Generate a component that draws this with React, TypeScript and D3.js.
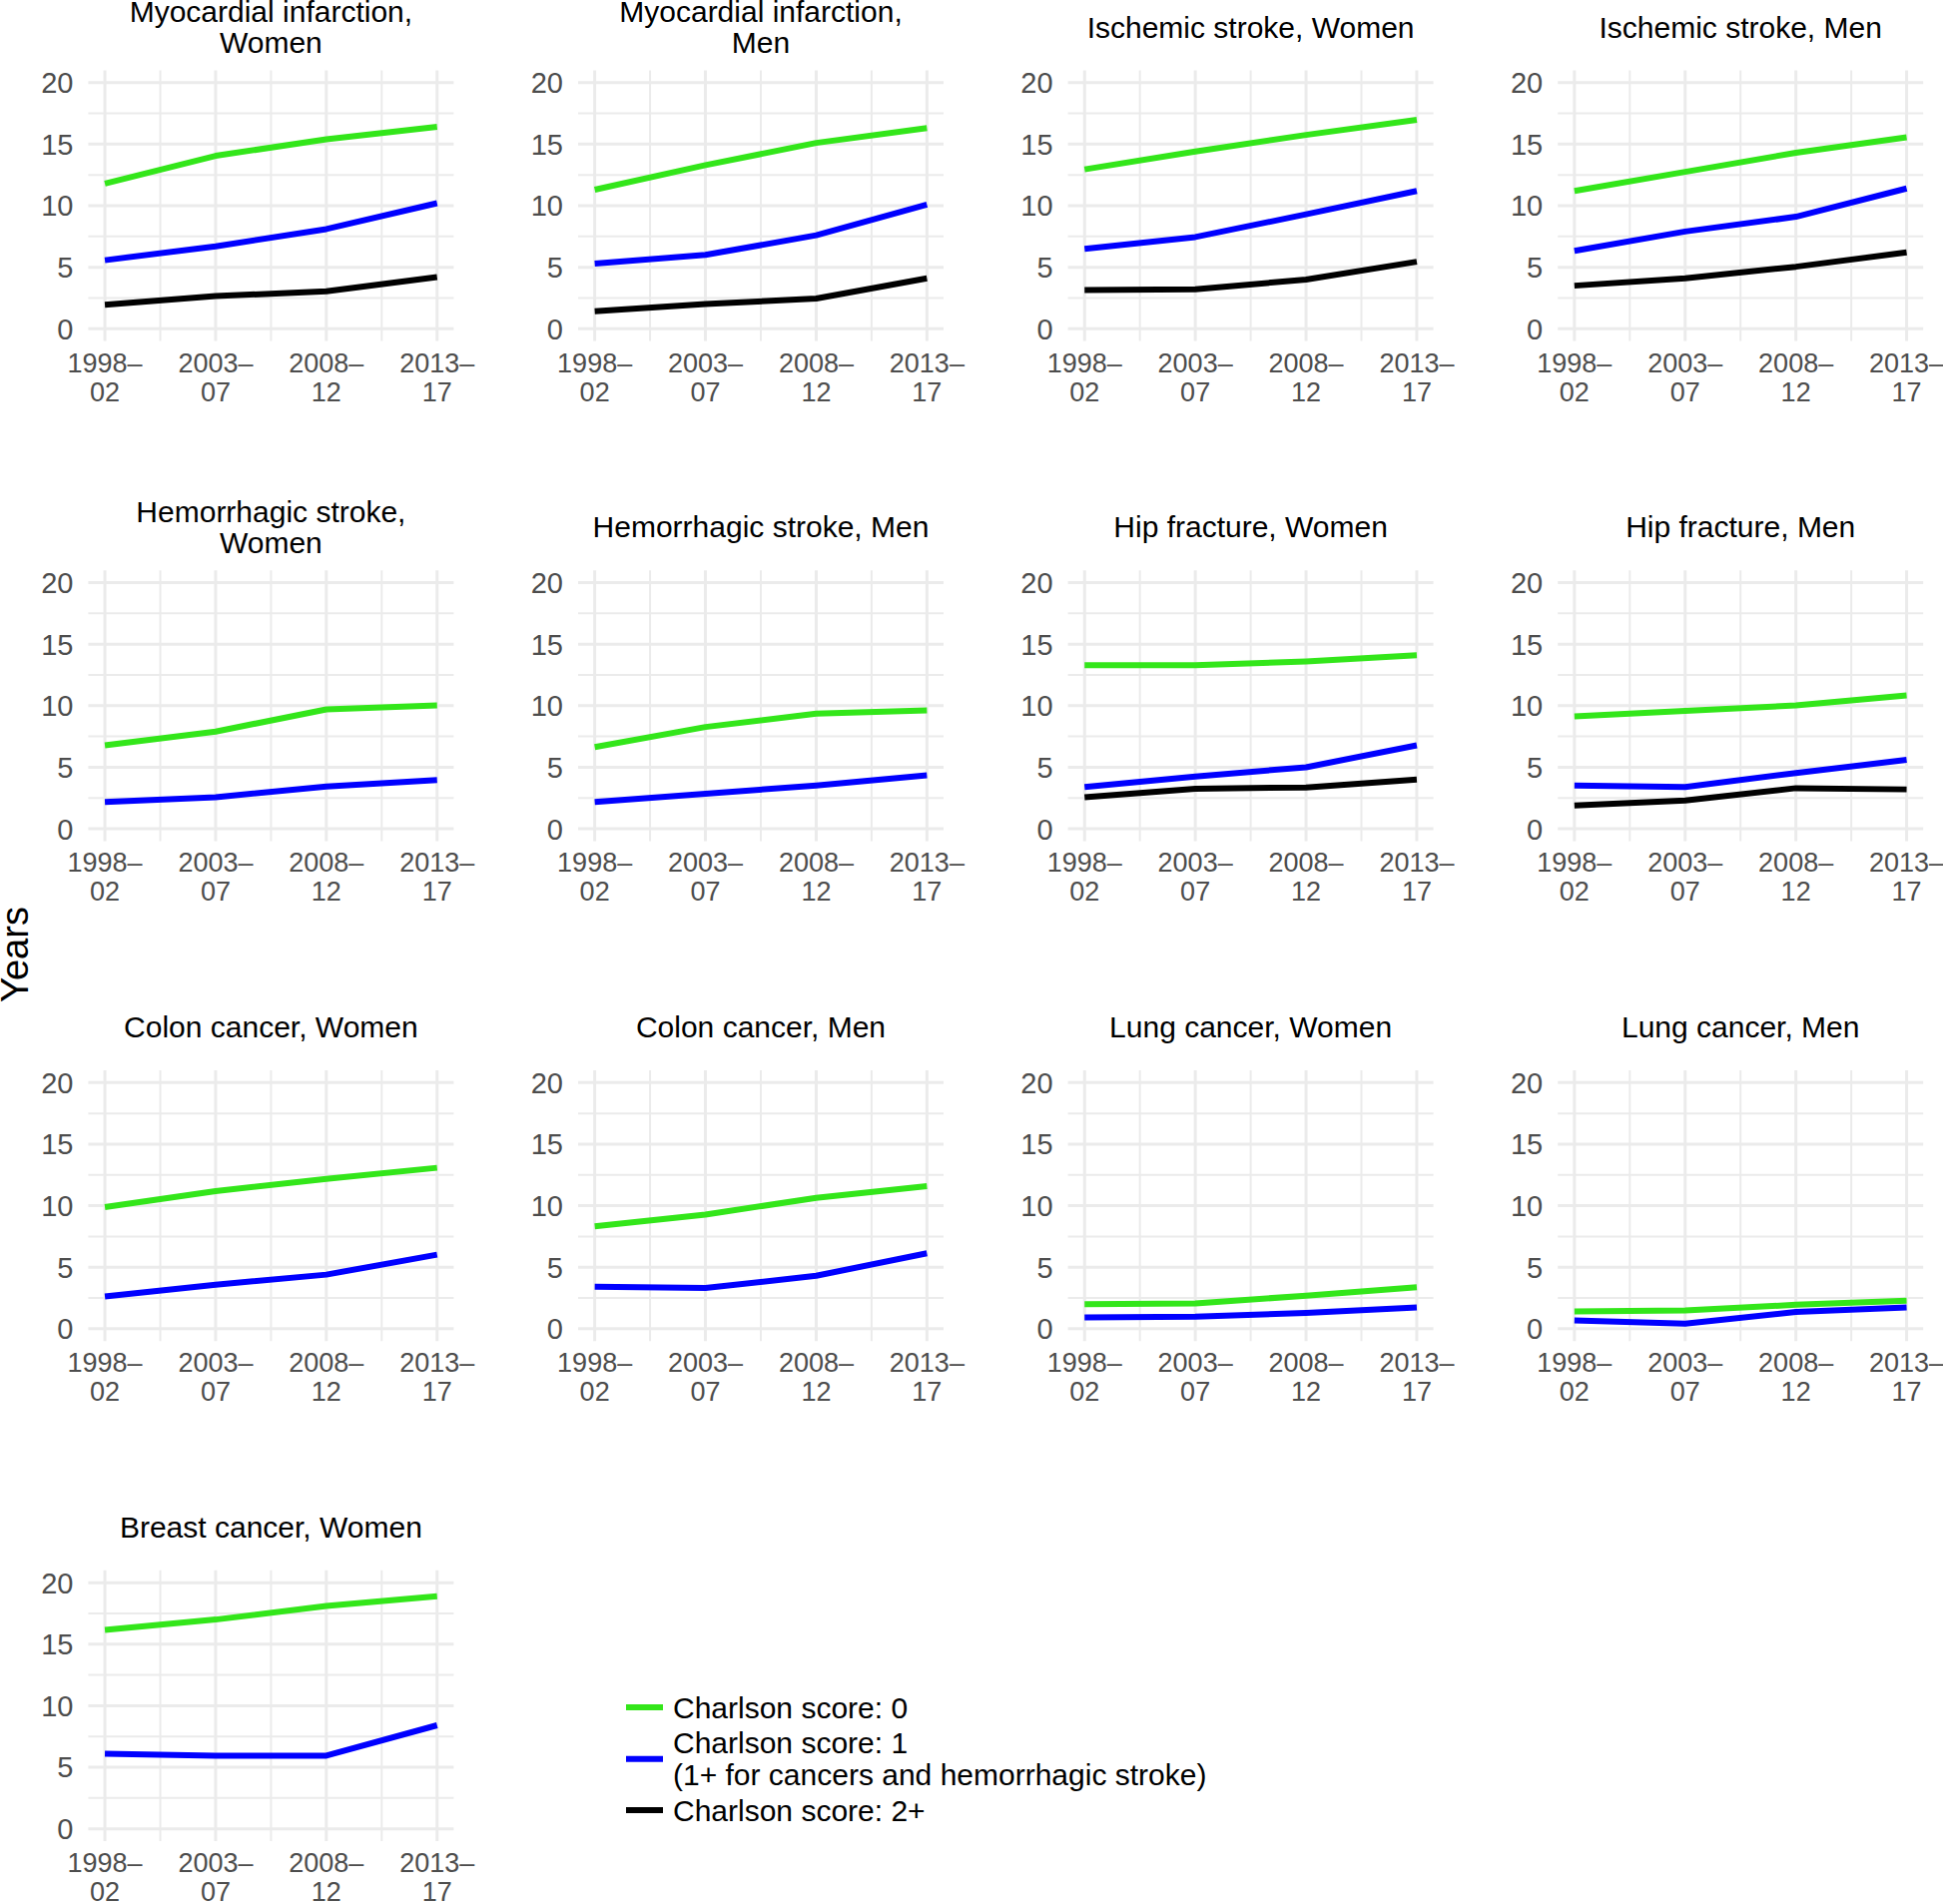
import React from "react";
import * as d3 from "d3";

// periods on the x axis (start year) and their two-line labels
const periods = [1998, 2003, 2008, 2013];
const periodTop = ["1998–", "2003–", "2008–", "2013–"];
const periodBottom = ["02", "07", "12", "17"];
const yTicks = [0, 5, 10, 15, 20];

const panelTitles = [
  "Myocardial infarction,\nWomen",
  "Myocardial infarction,\nMen",
  "Ischemic stroke, Women",
  "Ischemic stroke, Men",
  "Hemorrhagic stroke,\nWomen",
  "Hemorrhagic stroke, Men",
  "Hip fracture, Women",
  "Hip fracture, Men",
  "Colon cancer, Women",
  "Colon cancer, Men",
  "Lung cancer, Women",
  "Lung cancer, Men",
  "Breast cancer, Women",
];

// Charlson score 0
const score0 = [
  [11.8, 14.05, 15.4, 16.4],
  [11.3, 13.3, 15.1, 16.3],
  [12.95, 14.4, 15.75, 16.97],
  [11.2, 12.75, 14.3, 15.55],
  [6.78, 7.9, 9.7, 10.03],
  [6.64, 8.27, 9.35, 9.62],
  [13.28, 13.28, 13.6, 14.1],
  [9.13, 9.57, 10.03, 10.84],
  [9.88, 11.18, 12.18, 13.08],
  [8.33, 9.28, 10.64, 11.59],
  [2.0, 2.06, 2.69, 3.37],
  [1.41, 1.49, 1.95, 2.28],
  [16.15, 17.0, 18.1, 18.9],
];

// Charlson score 1 (1+ for cancers and hemorrhagic stroke)
const score1 = [
  [5.57, 6.7, 8.1, 10.2],
  [5.3, 6.0, 7.6, 10.1],
  [6.5, 7.45, 9.3, 11.2],
  [6.33, 7.9, 9.1, 11.4],
  [2.17, 2.57, 3.44, 3.96],
  [2.17, 2.85, 3.52, 4.34],
  [3.39, 4.25, 5.0, 6.78],
  [3.52, 3.39, 4.53, 5.6],
  [2.63, 3.58, 4.4, 6.02],
  [3.42, 3.31, 4.31, 6.13],
  [0.92, 0.98, 1.28, 1.74],
  [0.68, 0.41, 1.36, 1.74],
  [6.1, 5.94, 5.94, 8.41],
];

// Charlson score 2+ (only where shown)
const score2 = [
  [1.95, 2.65, 3.05, 4.2],
  [1.43, 2.0, 2.45, 4.1],
  [3.14, 3.2, 4.0, 5.45],
  [3.5, 4.1, 5.04, 6.2],
  null,
  null,
  [2.57, 3.25, 3.36, 4.0],
  [1.9, 2.3, 3.3, 3.2],
  null,
  null,
  null,
  null,
  null,
];

const seriesColors = ["#33E61A", "#0000FF", "#000000"];
const legendLabels = [
  ["Charlson score: 0"],
  ["Charlson score: 1", "(1+ for cancers and hemorrhagic stroke)"],
  ["Charlson score: 2+"],
];

const FONT = "'Liberation Sans', Arial, Helvetica, sans-serif";
const W = 366;
const H = 271.2;
const colLeft = 88.4;
const colStep = 490.6;
const rowTop = 70.4;
const rowStep = 500.8;

const x = d3.scaleLinear().domain([1998 - 0.75, 2013 + 0.75]).range([0, W]);
const y = d3.scaleLinear().domain([-1, 21]).range([H, 0]);

const line = d3
  .line<[number, number]>()
  .x((d) => x(d[0]))
  .y((d) => y(d[1]));

const minorX = [2000.5, 2005.5, 2010.5];
const minorY = [2.5, 7.5, 12.5, 17.5];

function Panel({ idx }: { idx: number }) {
  const c = idx % 4;
  const r = Math.floor(idx / 4);
  const left = colLeft + c * colStep;
  const top = rowTop + r * rowStep;
  const titleLines = panelTitles[idx].split("\n");
  const firstBase = 37.5 - ((titleLines.length - 1) * 31) / 2 - rowTop;
  const series = [score0[idx], score1[idx], score2[idx]];

  return (
    <g transform={`translate(${left},${top})`}>
      {minorY.map((v) => (
        <line key={"my" + v} x1={0} x2={W} y1={y(v)} y2={y(v)} stroke="#EBEBEB" strokeWidth={2} />
      ))}
      {minorX.map((v) => (
        <line key={"mx" + v} x1={x(v)} x2={x(v)} y1={0} y2={H} stroke="#EBEBEB" strokeWidth={2} />
      ))}
      {yTicks.map((v) => (
        <line key={"gy" + v} x1={0} x2={W} y1={y(v)} y2={y(v)} stroke="#EBEBEB" strokeWidth={3} />
      ))}
      {periods.map((v) => (
        <line key={"gx" + v} x1={x(v)} x2={x(v)} y1={0} y2={H} stroke="#EBEBEB" strokeWidth={3} />
      ))}
      {yTicks.map((v) => (
        <text
          key={"ty" + v}
          x={-15}
          y={y(v)}
          dy="0.36em"
          textAnchor="end"
          fontSize={29}
          fill="#4D4D4D"
        >
          {v}
        </text>
      ))}
      {periods.map((v, i) => (
        <text key={"tx" + v} x={x(v)} textAnchor="middle" fontSize={27} fill="#4D4D4D">
          <tspan x={x(v)} y={H + 31}>
            {periodTop[i]}
          </tspan>
          <tspan x={x(v)} y={H + 60}>
            {periodBottom[i]}
          </tspan>
        </text>
      ))}
      {series.map((vals, s) =>
        vals ? (
          <path
            key={"s" + s}
            d={line(periods.map((p, i) => [p, vals[i]] as [number, number])) || ""}
            fill="none"
            stroke={seriesColors[s]}
            strokeWidth={6}
            strokeLinejoin="round"
          />
        ) : null
      )}
      <text textAnchor="middle" fontSize={30} fill="#000">
        {titleLines.map((t, i) => (
          <tspan key={i} x={W / 2} y={firstBase + i * 31}>
            {t}
          </tspan>
        ))}
      </text>
    </g>
  );
}

export default function App() {
  const legendKeyY = [1710, 1761.7, 1813];
  const legendBase = [[1720.5], [1756, 1788], [1824]];
  return (
    <svg
      width={1946}
      height={1907}
      style={{ position: "absolute", left: 0, top: 0, background: "#fff" }}
      fontFamily={FONT}
    >
      <rect width={1946} height={1907} fill="#fff" />
      {panelTitles.map((_, i) => (
        <Panel key={i} idx={i} />
      ))}
      <text
        transform="translate(28,956) rotate(-90)"
        textAnchor="middle"
        fontSize={38}
        fill="#000"
      >
        Years
      </text>
      {legendLabels.map((lines, i) => (
        <g key={"lg" + i}>
          <line
            x1={627}
            x2={664}
            y1={legendKeyY[i]}
            y2={legendKeyY[i]}
            stroke={seriesColors[i]}
            strokeWidth={6}
          />
          {lines.map((t, j) => (
            <text key={j} x={674} y={legendBase[i][j]} fontSize={30} fill="#000">
              {t}
            </text>
          ))}
        </g>
      ))}
    </svg>
  );
}
